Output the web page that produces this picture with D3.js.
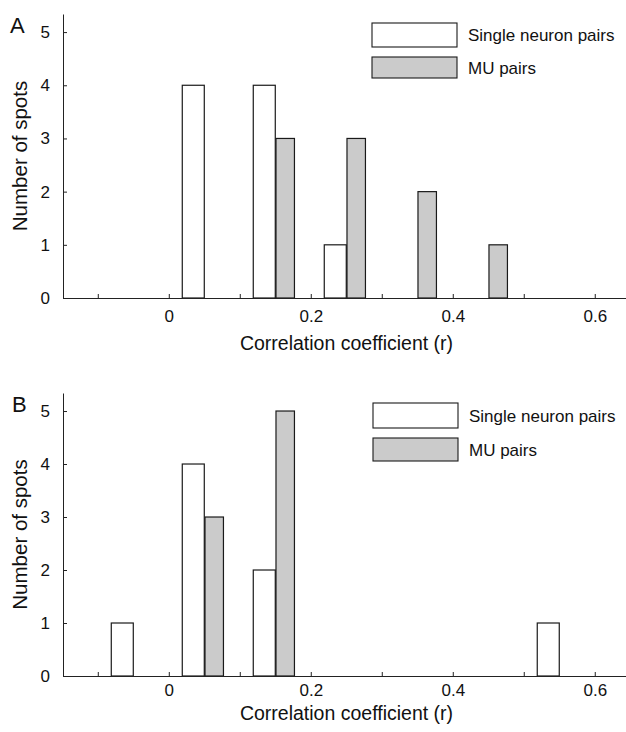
<!DOCTYPE html>
<html>
<head>
<meta charset="utf-8">
<script src="https://cdn.jsdelivr.net/npm/d3@7"></script>
<style>
  body { margin: 0; background: #fff; }
  text { font-family: "Liberation Sans", Arial, sans-serif; fill: #111; }
</style>
</head>
<body>
<div id="demo"></div>
<script>
// bin centres of the correlation histogram
let binCenters = [-0.05, 0.05, 0.15, 0.25, 0.35, 0.45, 0.55];
let singleA = [0, 4, 4, 1, 0, 0, 0];
let muA = [0, 0, 3, 3, 2, 1, 0];
let singleB = [1, 4, 2, 0, 0, 0, 1];
let muB = [0, 3, 5, 0, 0, 0, 0];
let seriesNames = ["Single neuron pairs", "MU pairs"];
let xTicks = [-0.1, 0, 0.1, 0.2, 0.3, 0.4, 0.5, 0.6];
let xLabels = [0, 0.2, 0.4, 0.6];
let yTicks = [0, 1, 2, 3, 4, 5];

let w = 626;
let h = 732;

let svg = d3.select("#demo")
    .append("svg")
    .attr("width", w)
    .attr("height", h);

const drawPanel = (p) => {

    let x = d3.scaleLinear()
        .domain([-0.149, 0.644])
        .range([63, 626]);

    let y = d3.scaleLinear()
        .domain([0, 5.34])
        .range([p.bottom, p.top]);

    let g = svg.append("g");

    // bars: single neuron to the left of the bin centre, MU to the right
    let bars = [];
    binCenters.forEach((c, i) => {
        if (p.single[i] > 0) bars.push({x0: c - 0.031, x1: c, v: p.single[i], fill: "#ffffff"});
        if (p.mu[i] > 0) bars.push({x0: c + 0.001, x1: c + 0.027, v: p.mu[i], fill: "#cbcbcb"});
    });

    g.selectAll("rect.bar")
        .data(bars)
        .enter()
        .append("rect")
        .attr("class", "bar")
        .attr("x", (d) => x(d.x0))
        .attr("y", (d) => y(d.v))
        .attr("width", (d) => x(d.x1) - x(d.x0))
        .attr("height", (d) => y(0) - y(d.v))
        .style("fill", (d) => d.fill)
        .style("stroke", "#1a1a1a")
        .style("stroke-width", 1.2);

    let xAxis = g.append("g")
        .attr("transform", "translate(0," + p.bottom + ")")
        .call(d3.axisBottom(x)
            .tickValues(xTicks)
            .tickSizeInner(-4)
            .tickSizeOuter(0)
            .tickPadding(p.xPad)
            .tickFormat((d) => xLabels.includes(d) ? String(d) : ""));

    let yAxis = g.append("g")
        .attr("transform", "translate(63,0)")
        .call(d3.axisLeft(y)
            .tickValues(yTicks)
            .tickSizeInner(-4)
            .tickSizeOuter(0)
            .tickPadding(13)
            .tickFormat(d3.format("d")));

    [xAxis, yAxis].forEach((a) => {
        a.selectAll("path, line").style("stroke", "#222").style("stroke-width", 1);
        a.selectAll("text").style("font-size", "17px").style("fill", "#111");
    });

    g.append("text")
        .attr("x", (235 + 458) / 2)
        .attr("y", p.titleY)
        .attr("text-anchor", "middle")
        .style("font-size", "19.5px")
        .text("Correlation coefficient (r)");

    g.append("text")
        .attr("transform", "translate(27," + ((p.top + p.bottom) / 2) + ") rotate(-90)")
        .attr("text-anchor", "middle")
        .style("font-size", "20.5px")
        .text("Number of spots");

    g.append("text")
        .attr("x", p.letterX)
        .attr("y", p.letterY)
        .style("font-size", "22px")
        .text(p.letter);

    // legend
    let legend = g.append("g");
    p.legend.forEach((row, i) => {
        legend.append("rect")
            .attr("x", row.x)
            .attr("y", row.y)
            .attr("width", 85)
            .attr("height", row.h)
            .style("fill", i == 0 ? "#ffffff" : "#cbcbcb")
            .style("stroke", "#1a1a1a")
            .style("stroke-width", 1.1);
        legend.append("text")
            .attr("x", row.x + 96)
            .attr("y", row.y + row.h / 2)
            .attr("dy", "0.36em")
            .style("font-size", "17px")
            .text(seriesNames[i]);
    });
};

drawPanel({
    letter: "A", letterX: 10, letterY: 33,
    single: singleA, mu: muA,
    top: 14, bottom: 298, xPad: 12, titleY: 350,
    legend: [{x: 372, y: 23, h: 24}, {x: 372, y: 57, h: 21}]
});

drawPanel({
    letter: "B", letterX: 12, letterY: 412,
    single: singleB, mu: muB,
    top: 393, bottom: 676, xPad: 8, titleY: 720,
    legend: [{x: 373, y: 403, h: 25}, {x: 373, y: 438, h: 23}]
});
</script>
</body>
</html>
